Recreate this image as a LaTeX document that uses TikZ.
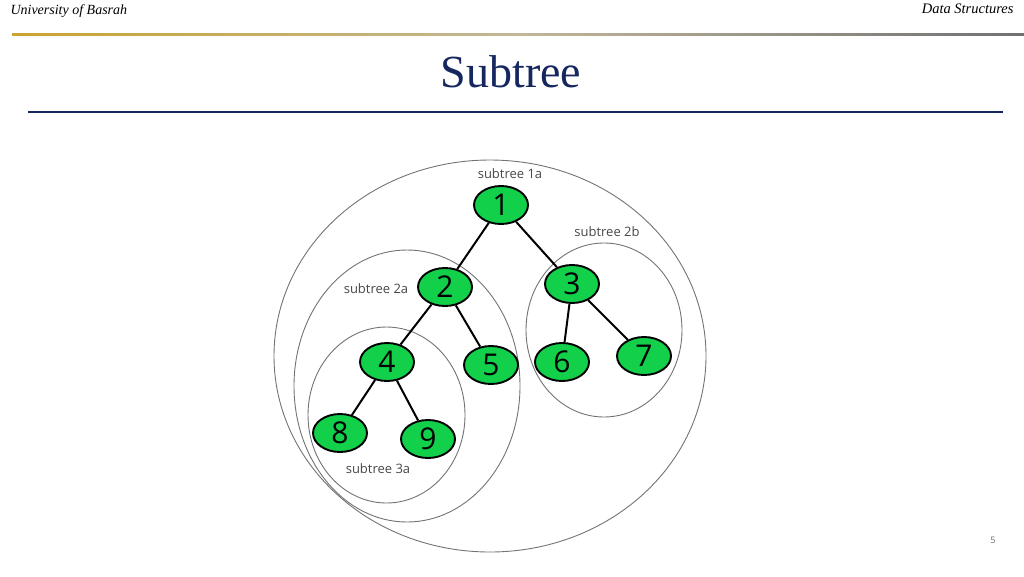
\documentclass[tikz,border=0pt]{standalone}
\usepackage{fontspec}
\setmainfont{Liberation Serif}
\newfontfamily\labelfont{Open Sans}
\usepackage{xcolor}
\usetikzlibrary{shapes.geometric}

\definecolor{nodegreen}{RGB}{18,208,74}
\definecolor{titleblue}{RGB}{22,38,94}
\definecolor{rulegold}{RGB}{201,164,46}
\definecolor{rulegray}{RGB}{112,112,116}

\begin{document}
\begin{tikzpicture}[x=1pt, y=-1pt,
    treenode/.style={ellipse, draw=black, line width=1.9pt, fill=nodegreen,
        minimum width=54pt, minimum height=38pt, inner sep=0pt,
        font=\labelfont\fontsize{30}{30}\selectfont},
    treeedge/.style={line width=2pt},
    ring/.style={draw=black!55, line width=0.9pt},
    ringlabel/.style={text=black!72, font=\labelfont\fontsize{13}{13}\selectfont}]
    \useasboundingbox (0,0) rectangle (1024,576);

    % Slide header
    \node[anchor=west, font=\itshape\fontsize{14}{14}\selectfont] (uni) at (7,11) {University of Basrah};
    \node[anchor=east, font=\itshape\fontsize{14.5}{14.5}\selectfont] (course) at (1017,9) {Data Structures};
    \shade[left color=rulegold, right color=rulegray, middle color=rulegold!45!rulegray!60] (12,33) rectangle (1024,35);

    % Title
    \node[text=titleblue, font=\fontsize{46}{46}\selectfont] (title) at (511,72) {Subtree};
    \draw[titleblue, line width=1.6pt] (28,112) -- (1003,112);

    % Subtree outlines
    \draw[ring] (490,356) ellipse [x radius=216, y radius=196];
    \draw[ring] (407,386) ellipse [x radius=113, y radius=136];
    \draw[ring] (386.5,415) ellipse [x radius=78.5, y radius=88];
    \draw[ring] (604,330) ellipse [x radius=78, y radius=87];

    % Subtree labels
    \node[ringlabel] (lab1a) at (510,174) {subtree 1a};
    \node[ringlabel] (lab2b) at (607,232) {subtree 2b};
    \node[ringlabel] (lab2a) at (376,289) {subtree 2a};
    \node[ringlabel] (lab3a) at (378,469) {subtree 3a};

    % Tree nodes
    \node[treenode] (n1) at (501,205) {1};
    \node[treenode] (n2) at (445,287) {2};
    \node[treenode] (n3) at (572,284) {3};
    \node[treenode] (n4) at (387,362) {4};
    \node[treenode] (n5) at (491,365) {5};
    \node[treenode] (n6) at (562,362) {6};
    \node[treenode] (n7) at (644,356) {7};
    \node[treenode] (n8) at (340,433) {8};
    \node[treenode] (n9) at (428,439) {9};

    % Tree edges
    \draw[treeedge] (n1) -- (n2);
    \draw[treeedge] (n1) -- (n3);
    \draw[treeedge] (n2) -- (n4);
    \draw[treeedge] (n2) -- (n5);
    \draw[treeedge] (n3) -- (n6);
    \draw[treeedge] (n3) -- (n7);
    \draw[treeedge] (n4) -- (n8);
    \draw[treeedge] (n4) -- (n9);

    % Page number
    \node[text=black!60, font=\labelfont\fontsize{9}{9}\selectfont] (page) at (993,540) {5};
\end{tikzpicture}
\end{document}
